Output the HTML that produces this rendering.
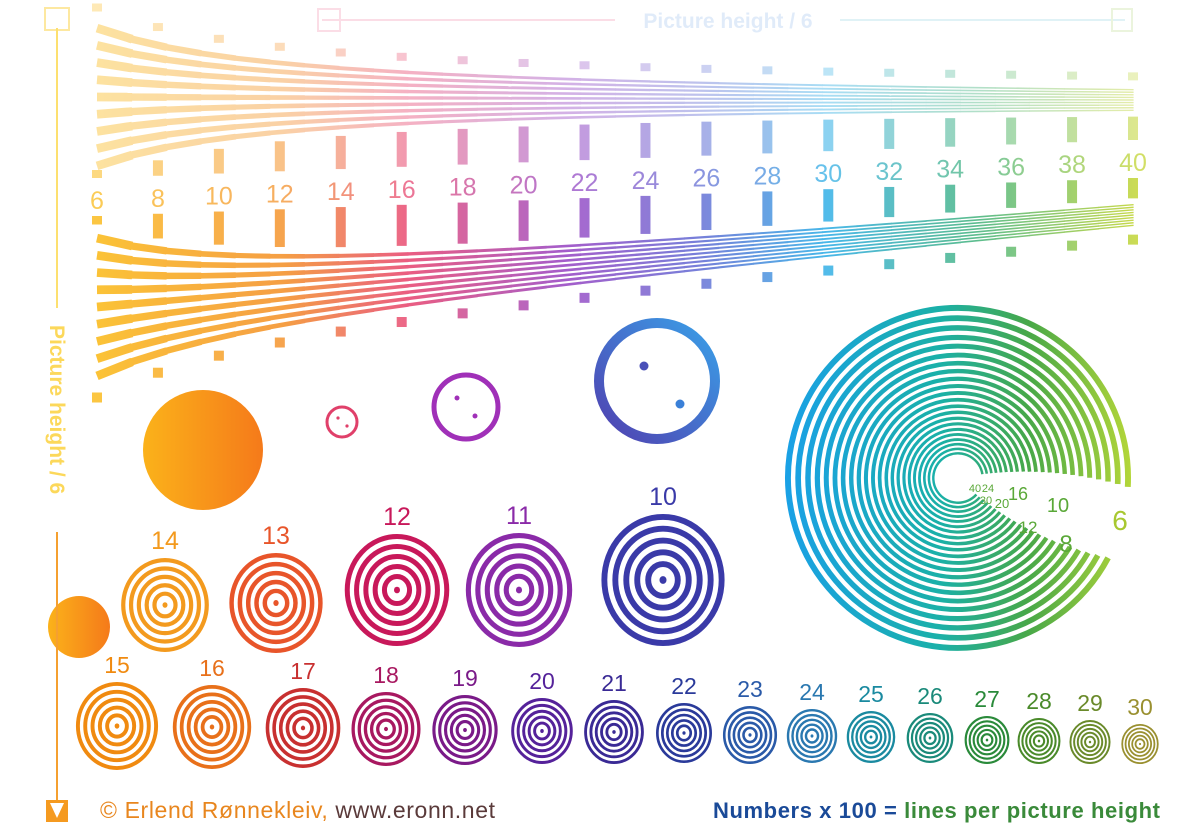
<!DOCTYPE html>
<html><head><meta charset="utf-8"><style>
html,body{margin:0;padding:0;background:#fff;}
svg{display:block;font-family:"Liberation Sans",sans-serif;}
</style></head><body>
<svg id="c" width="1200" height="831" viewBox="0 0 1200 831">
<defs>
<linearGradient id="wg" x1="95" x2="1140" y1="0" y2="0" gradientUnits="userSpaceOnUse">
<stop offset="0" stop-color="#fbc02d"/><stop offset="0.18" stop-color="#f59a3a"/><stop offset="0.3" stop-color="#e9557c"/>
<stop offset="0.45" stop-color="#a055c8"/><stop offset="0.58" stop-color="#6f7ad8"/><stop offset="0.7" stop-color="#3fb4e8"/>
<stop offset="0.84" stop-color="#52b98a"/><stop offset="1" stop-color="#c8d840"/></linearGradient>
<linearGradient id="sg" x1="780" x2="1135" y1="0" y2="0" gradientUnits="userSpaceOnUse">
<stop offset="0" stop-color="#1aa0e8"/><stop offset="0.45" stop-color="#1ab0a8"/><stop offset="0.7" stop-color="#48a848"/><stop offset="1" stop-color="#b8d838"/></linearGradient>
<linearGradient id="og" x1="0" x2="1" y1="0" y2="0"><stop offset="0" stop-color="#fbb21a"/><stop offset="1" stop-color="#f57a1a"/></linearGradient>
<linearGradient id="bg2" x1="0" x2="1" y1="1" y2="0"><stop offset="0" stop-color="#5040b0"/><stop offset="1" stop-color="#3aa0e8"/></linearGradient>
</defs>
<g id="wedge"></g>
<g id="targets"></g>
<g id="spiral"></g>

<g opacity="0.35">
<line x1="322" y1="20" x2="615" y2="20" stroke="#f4a0b8" stroke-width="2"/>
<line x1="840" y1="20" x2="1125" y2="20" stroke="#a8dce8" stroke-width="2"/>
<rect x="318" y="9" width="22" height="22" fill="none" stroke="#f4a0b8" stroke-width="2"/>
<rect x="1112" y="9" width="20" height="22" fill="none" stroke="#c8e0a0" stroke-width="2"/>
<text x="728" y="28" font-size="21" font-weight="bold" fill="#a8c8f0" text-anchor="middle">Picture height / 6</text>
</g>
<g>
<rect x="45" y="8" width="24" height="22" fill="none" stroke="#fde8a0" stroke-width="2"/>
<line x1="57" y1="28" x2="57" y2="308" stroke="#fde070" stroke-width="2"/>
<text transform="translate(50,325) rotate(90)" font-size="21" font-weight="bold" fill="#fcd85a">Picture height / 6</text>
<line x1="57" y1="532" x2="57" y2="805" stroke="#f5a030" stroke-width="2"/>
<path d="M46 800 L68 800 L68 822 L46 822 Z" fill="#f59a20"/>
<path d="M50 803 L64 803 L57 818 Z" fill="#fff"/>
</g>
<text x="100" y="818" font-size="23" textLength="395" fill="#e8861e">© Erlend Rønnekleiv, <tspan fill="#5a3a3a">www.eronn.net</tspan></text>
<text x="713" y="818" font-size="22" font-weight="bold" textLength="447" fill="#1a4a98">Numbers x 100 =  <tspan fill="#3a8a3a">lines per picture height</tspan></text>
</svg>
<script>
const wedgeLabels=[6,8,10,12,14,16,18,20,22,24,26,28,30,32,34,36,38,40];
const targetNums=[14,13,12,11,10,15,16,17,18,19,20,21,22,23,24,25,26,27,28,29,30];
const targetCx=[165,276,397,519,663,117,212,303,386,465,542,614,684,750,812,871,930,987,1039,1090,1140];
const targetCy=[605,603,590,590,580,726,727,728,729,730,731,732,733,735,736,737,738,740,741,742,744];
const targetR=[47,50,56,57,66,44,42,40,37,35,33,32,30,29,27,26,25,24,23,22,20];
const targetColors=["#f39a1e","#e8552a","#c8185a","#8a2aa8","#3a3aa8","#f08a10","#e8701a","#c83030","#a81860","#7a1a88","#55229a","#3a2a95","#2a3a9a","#2a5aa8","#2a78b0","#1a8aa0","#1a8a7a","#2a8a3a","#4a8a2a","#6a8a2a","#9a9030"];
const spiralLabels=[6,8,10,12,16,20,24,30,40];
const NS="http://www.w3.org/2000/svg";
function mk(tag,attrs,parent){const e=document.createElementNS(NS,tag);for(const k in attrs)e.setAttribute(k,attrs[k]);parent.appendChild(e);return e;}
const X0=97,X1=1133,F0=6,F1=40;
function xOf(f){return X0+(f-F0)/(F1-F0)*(X1-X0);}
function fOf(x){return F0+(x-X0)/(X1-X0)*(F1-F0);}
const W=document.getElementById('wedge');
const NL=9;
function bandVar(cy0,cy1,op,name){
  const g=mk('g',{opacity:op},W);
  
  
  for(let k=0;k<NL;k++){
    for(let s=0;s<30;s++){
      const xa=X0+(X1-X0)*s/30, xb=X0+(X1-X0)*(s+1)/30;
      const pts=[xa,xb].map(x=>{const f=fOf(x),w=155*F0/f,t=(x-X0)/(X1-X0),cy=cy0+(cy1-cy0)*t;return [x,cy-w/2+w*(k+0.5)/NL,w/NL*0.55];});
      const sw=(pts[0][2]+pts[1][2])/2;
      mk('line',{x1:pts[0][0],y1:pts[0][1],x2:pts[1][0]+0.6,y2:pts[1][1],stroke:'url(#wg)','stroke-width':sw.toFixed(2)},g);
    }
  }
}
bandVar(97,100,0.45,'upper-wedge-band');
bandVar(307,215,0.95,'lower-wedge-band');
wedgeLabels.forEach((v,i)=>{
  const x=xOf(v), t=i/(wedgeLabels.length-1), yl=200-t*38;
  const wT=155*F0/v;
  const topB=100*t+97*(1-t)+wT/2, botB=215*t+307*(1-t)-wT/2;
  const ub=mk('rect',{x:x-5,y:Math.min(topB+5,yl-30),width:10,height:Math.max(6,yl-22-Math.min(topB+5,yl-30)),fill:'url(#wg)',opacity:0.6},W);
  
  
  const lb=mk('rect',{x:x-5,y:yl+16,width:10,height:Math.max(6,botB-5-yl-16),fill:'url(#wg)',opacity:0.9},W);
  
  
  mk('rect',{x:x-5,y:97*(1-t)+100*t-wT/2-16,width:10,height:8,fill:'url(#wg)',opacity:0.35},W);
  mk('rect',{x:x-5,y:307*(1-t)+215*t+wT/2+8,width:10,height:10,fill:'url(#wg)',opacity:0.9},W);
  const tx=mk('text',{x:x,y:yl+9,'font-size':25,'text-anchor':'middle',fill:'url(#wg)',opacity:0.8},W);
  
  
  tx.textContent=v;
});
const T=document.getElementById('targets');
let e;
e=mk('circle',{cx:203,cy:450,r:60,fill:'url(#og)'},T);
e=mk('circle',{cx:79,cy:627,r:31,fill:'url(#og)'},T);
e=mk('circle',{cx:342,cy:422,r:15,fill:'none',stroke:'#e0406a','stroke-width':3},T);
mk('circle',{cx:338,cy:418,r:1.6,fill:'#e0406a'},T);mk('circle',{cx:347,cy:426,r:1.6,fill:'#e0406a'},T);
e=mk('circle',{cx:466,cy:407,r:32,fill:'none',stroke:'#a030b8','stroke-width':5},T);
mk('circle',{cx:457,cy:398,r:2.5,fill:'#a030b8'},T);mk('circle',{cx:475,cy:416,r:2.5,fill:'#a030b8'},T);
e=mk('circle',{cx:657,cy:381,r:58,fill:'none',stroke:'url(#bg2)','stroke-width':10},T);
mk('circle',{cx:644,cy:366,r:4.5,fill:'#4a50b8'},T);mk('circle',{cx:680,cy:404,r:4.5,fill:'#3a80d8'},T);
targetNums.forEach((n,i)=>{
  const g=mk('g',{},T);
  
  
  const cx=targetCx[i],cy=targetCy[i],r=targetR[i],col=targetColors[i];
  const p=r/5.6;
  for(let rr=r-p/4;rr>p*0.6;rr-=p){
    mk('ellipse',{cx:cx,cy:cy,rx:rr*0.93,ry:rr,fill:'none',stroke:col,'stroke-width':p/2},g);
  }
  mk('ellipse',{cx:cx,cy:cy,rx:p*0.3,ry:p*0.33,fill:col},g);
  const tx=mk('text',{x:cx,y:cy-r-9,'font-size':i<5?25:23,'text-anchor':'middle',fill:col},g);
  
  
  tx.textContent=n;
});
const S=document.getElementById('spiral');
const SCX=958,SCY=478;
let rr=170;
while(rr>24){
  const p=3.2+7*(rr/170);
  const t=(170-rr)/146;
  const gapEnd=3-t*12, gapStart=28+t*14;
  const a0=gapStart*Math.PI/180, a1=(360+gapEnd)*Math.PI/180;
  const x0=SCX+rr*Math.cos(a0),y0=SCY+rr*Math.sin(a0),x1=SCX+rr*Math.cos(a1),y1=SCY+rr*Math.sin(a1);
  const pa=mk('path',{d:`M${x0.toFixed(1)} ${y0.toFixed(1)} A${rr.toFixed(1)} ${rr.toFixed(1)} 0 1 1 ${x1.toFixed(1)} ${y1.toFixed(1)}`,fill:'none',stroke:'url(#sg)','stroke-width':(p*0.58).toFixed(2)},S);
  
  
  rr-=p;
}
const sx=[1120,1066,1058,1028,1018,1002,988,986,975], sy=[530,552,512,533,500,508,492,504,492], ss=[28,24,20,17,18,13,11,11,11];
spiralLabels.forEach((v,i)=>{
  const t=mk('text',{x:sx[i],y:sy[i],'font-size':ss[i],'text-anchor':'middle',fill:i==0?'#a8c830':'#5aa838'},S);
  
  
  t.textContent=v;
});
</script>
</body></html>
